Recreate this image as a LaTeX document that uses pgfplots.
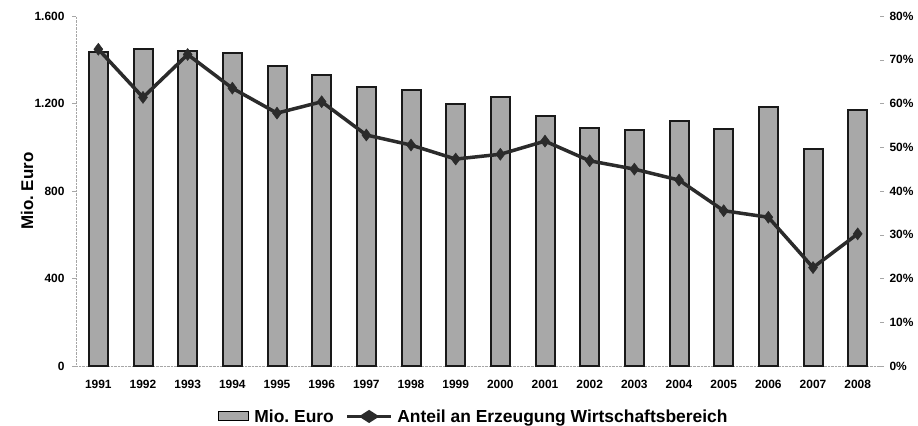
\documentclass[border=0pt]{standalone}
\usepackage{pgfplots}
\pgfplotsset{compat=1.18}
\usepackage{fontspec}
\setmainfont{Liberation Sans}
\definecolor{barfill}{HTML}{A8A8A8}
\definecolor{linecol}{HTML}{2B2B2B}
\begin{document}
\frenchspacing
\begin{tikzpicture}[x=1bp,y=1bp]
\useasboundingbox (0,0) rectangle (918,425);
\begin{axis}[
  at={(76bp,59bp)}, anchor=south west,
  scale only axis, width=804bp, height=350bp,
  xmin=-0.5, xmax=17.5, ymin=0, ymax=1600,
  xtick={0,...,17},
  xticklabels={1991,1992,1993,1994,1995,1996,1997,1998,1999,2000,2001,2002,2003,2004,2005,2006,2007,2008},
  ytick={0,400,800,1200,1600}, yticklabels={0,400,800,1.200,1.600},
  axis x line*=bottom, axis y line*=left,
  axis line style={gray!70, densely dotted},
  x tick style={draw=none},
  y tick style={gray!70}, tick align=outside, major tick length=4bp,
  ticklabel style={font=\fontsize{12}{14}\selectfont\bfseries},
  xticklabel style={yshift=-7bp},
  yticklabel style={xshift=-4bp},
  ylabel={Mio.\ Euro},
  ylabel style={font=\fontsize{17}{19}\selectfont\bfseries, at={(axis description cs:-0.061,0.5)}, anchor=center},
]
\addplot[ybar, bar width=19bp, fill=barfill, draw=black!90, line width=2bp] coordinates {
(0,1436) (1,1448) (2,1440) (3,1432) (4,1371) (5,1329) (6,1274) (7,1262) (8,1196)
(9,1231) (10,1141) (11,1088) (12,1077) (13,1119) (14,1082) (15,1185) (16,992) (17,1169)};
\end{axis}
\begin{axis}[
  at={(76bp,59bp)}, anchor=south west,
  scale only axis, width=804bp, height=350bp,
  xmin=-0.5, xmax=17.5, ymin=0, ymax=80,
  axis x line=none, axis y line*=right,
  y axis line style={draw=none},
  ytick={0,10,...,80},
  yticklabels={0\%,10\%,20\%,30\%,40\%,50\%,60\%,70\%,80\%},
  y tick style={gray!70}, tick align=outside, major tick length=4bp,
  ticklabel style={font=\fontsize{12}{14}\selectfont\bfseries},
  yticklabel style={xshift=2bp},
  legend style={at={(0.495,-0.112)}, anchor=north, draw=none, fill=none,
    font=\fontsize{17.5}{19}\selectfont\bfseries, legend columns=2,
    /tikz/every odd column/.append style={column sep=3bp},
    /tikz/every even column/.append style={column sep=10bp}},
]
\addlegendimage{legend image code/.code={\draw[fill=barfill,draw=black,line width=1bp] (0bp,-4.5bp) rectangle (30bp,4.5bp);}}
\addlegendentry{Mio.\ Euro}
\addplot[line width=3.5bp, color=linecol, mark=diamond*, mark size=6bp,
  mark options={fill=linecol, line width=0.5bp},
  legend image code/.code={\draw[line width=2.5bp, linecol] (0bp,0bp) -- (44bp,0bp);
    \fill[linecol] (22bp,0bp) +(-7bp,0) -- +(0,4.5bp) -- +(7bp,0) -- +(0,-4.5bp) -- cycle;}] coordinates {
(0,72.4) (1,61.4) (2,71.2) (3,63.5) (4,57.8) (5,60.4) (6,52.8) (7,50.5) (8,47.3)
(9,48.4) (10,51.4) (11,46.9) (12,45.0) (13,42.5) (14,35.5) (15,34.0) (16,22.5) (17,30.2)};
\addlegendentry{Anteil an Erzeugung Wirtschaftsbereich}
\end{axis}
\end{tikzpicture}
\end{document}
